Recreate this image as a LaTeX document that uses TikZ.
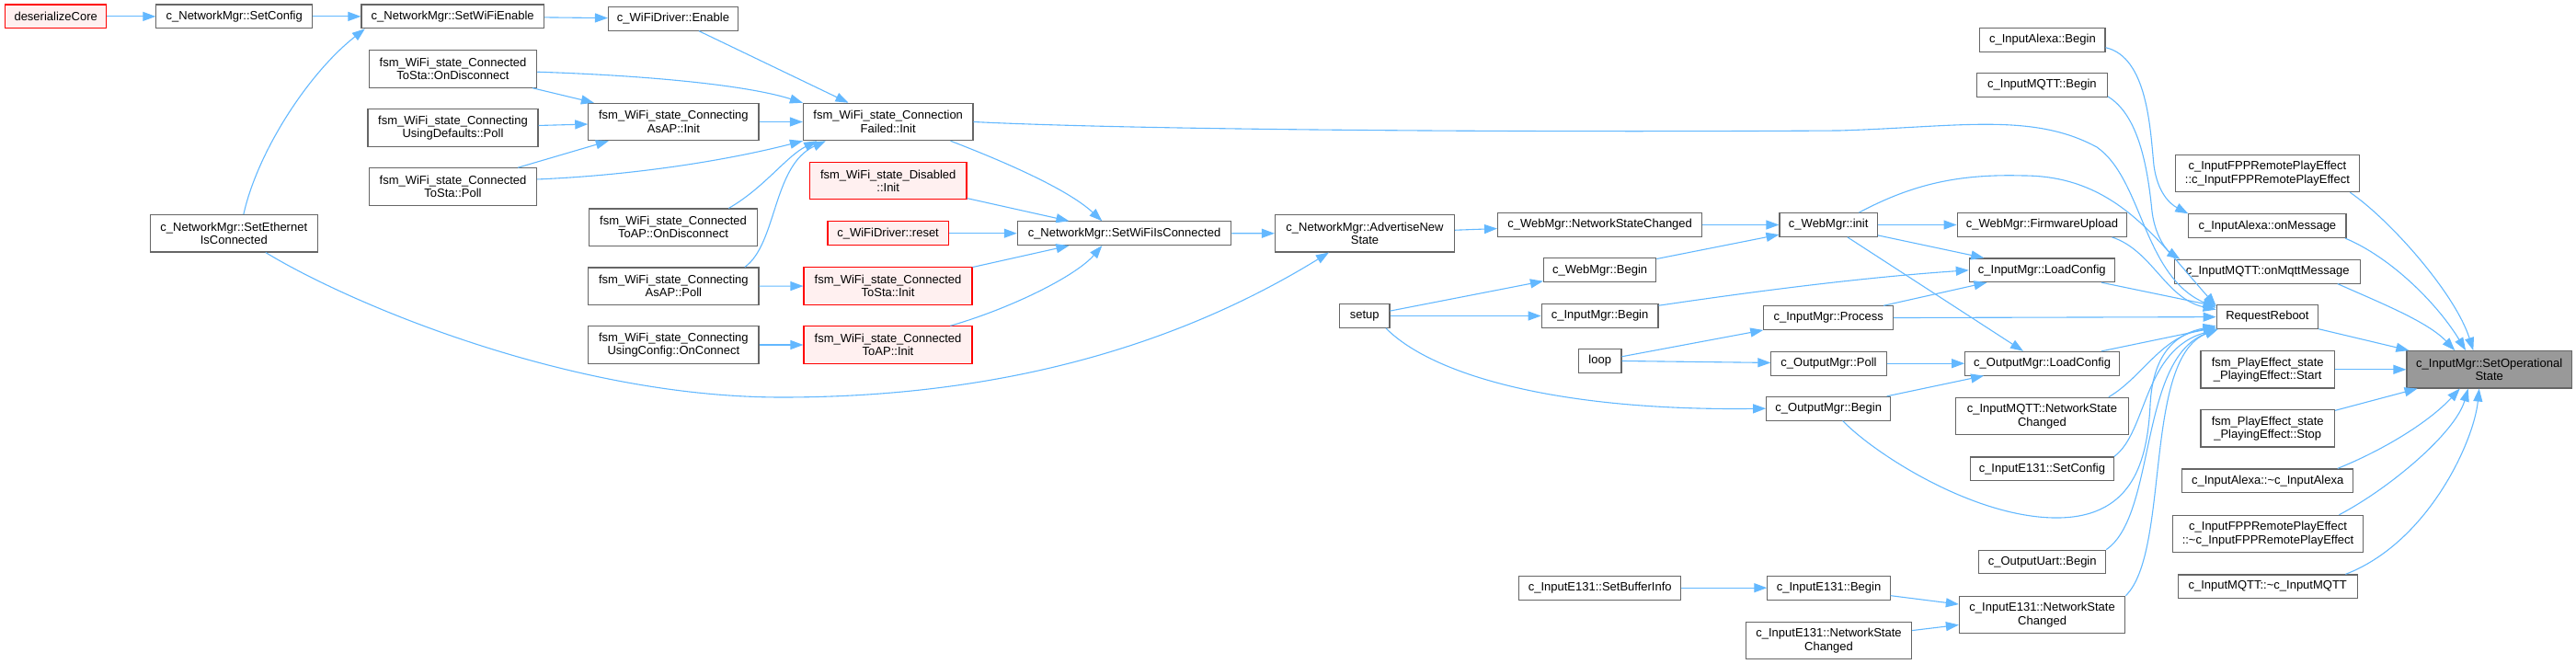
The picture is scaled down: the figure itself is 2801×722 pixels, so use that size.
\documentclass[tikz,border=0pt]{standalone}
\usepackage{fontspec}
\setmainfont{Liberation Sans}
\usepackage{xcolor}
\usepackage{tikz}
\usetikzlibrary{arrows.meta}

\definecolor{edgeblue}{HTML}{63B8FF}
\definecolor{nodegray}{HTML}{666666}
\definecolor{redfill}{HTML}{FFF0F0}
\definecolor{rootfill}{HTML}{999999}

\begin{document}
\begin{tikzpicture}[
      font=\fontsize{13}{14.3}\selectfont, x=1pt, y=-1pt,
      box/.style={draw=nodegray, line width=1.1pt, fill=white, align=center, inner xsep=3pt, inner ysep=1pt, minimum height=25.7, minimum width=#1},
      box2/.style={box=#1, minimum height=40.4},
      rbox/.style={box=#1, draw=red, fill=redfill},
      rbox2/.style={box2=#1, draw=red, fill=redfill},
      rootbox/.style={box2=#1, fill=rootfill},
      ar/.style={draw=edgeblue, line width=1.1pt, -{Triangle[length=14pt,width=10pt]}}]
    \useasboundingbox (0,0) rectangle (2801,722);
    \node[rbox=110.2]   (dcore)     at (60.7,17.9)    {deserializeCore};
    \node[box=169.7]    (setcfg)    at (254.7,17.9)   {c\_NetworkMgr::SetConfig};
    \node[box=198.5]    (wifien)    at (492.2,17.9)   {c\_NetworkMgr::SetWiFiEnable};
    \node[box=141]      (drven)     at (732,20.3)     {c\_WiFiDriver::Enable};
    \node[box2=182.4]   (stadisc)   at (492.5,75)     {fsm\_WiFi\_state\_Connected\\ToSta::OnDisconnect};
    \node[box2=185]     (defpoll)   at (492.5,139)    {fsm\_WiFi\_state\_Connecting\\UsingDefaults::Poll};
    \node[box2=182.4]   (stapoll)   at (492.5,203)    {fsm\_WiFi\_state\_Connected\\ToSta::Poll};
    \node[box2=181.6]   (ethcon)    at (254.3,253.8)  {c\_NetworkMgr::SetEthernet\\IsConnected};
    \node[box2=185.2]   (apinit)    at (732.4,132.5)  {fsm\_WiFi\_state\_Connecting\\AsAP::Init};
    \node[box2=184.5]   (failinit)  at (965.7,132.5)  {fsm\_WiFi\_state\_Connection\\Failed::Init};
    \node[rbox2=170.5]  (disinit)   at (965.7,196.5)  {fsm\_WiFi\_state\_Disabled\\::Init};
    \node[box2=183.1]   (apdisc)    at (732,247.2)    {fsm\_WiFi\_state\_Connected\\ToAP::OnDisconnect};
    \node[rbox=131.2]   (drvreset)  at (965.6,253.7)  {c\_WiFiDriver::reset};
    \node[box2=185.2]   (appoll)    at (732.4,311.2)  {fsm\_WiFi\_state\_Connecting\\AsAP::Poll};
    \node[rbox2=183]    (stainit)   at (965.5,311)    {fsm\_WiFi\_state\_Connected\\ToSta::Init};
    \node[box2=185.2]   (cfgconn)   at (732.4,375)    {fsm\_WiFi\_state\_Connecting\\UsingConfig::OnConnect};
    \node[rbox2=183]    (toapinit)  at (965.5,375)    {fsm\_WiFi\_state\_Connected\\ToAP::Init};
    \node[box=232.4]    (wifiis)    at (1222.5,253.7) {c\_NetworkMgr::SetWiFiIsConnected};
    \node[box2=195.1]   (advert)    at (1484,253.8)   {c\_NetworkMgr::AdvertiseNew\\State};
    \node[box=222.1]    (webnsc)    at (1739.6,244.5) {c\_WebMgr::NetworkStateChanged};
    \node[box=122.3]    (webbegin)  at (1739.6,293.7) {c\_WebMgr::Begin};
    \node[box=54.5]     (setup)     at (1483.7,343.5) {setup};
    \node[box=126.8]    (inbegin)   at (1739.6,343.5) {c\_InputMgr::Begin};
    \node[box=46.6]     (loop)      at (1739.7,392.2) {loop};
    \node[box=176.2]    (e131buf)   at (1739.7,639.2) {c\_InputE131::SetBufferInfo};
    \node[box2=180.3]   (e131nsc2)  at (1988.5,696.5) {c\_InputE131::NetworkState\\Changed};
    \node[box=106.4]    (webinit)   at (1988.2,244.5) {c\_WebMgr::init};
    \node[box=140.8]    (inproc)    at (1988.2,345.7) {c\_InputMgr::Process};
    \node[box=125.2]    (outpoll)   at (1988.5,395.2) {c\_OutputMgr::Poll};
    \node[box=135]      (outbegin)  at (1988.2,444.2) {c\_OutputMgr::Begin};
    \node[box=133.3]    (e131begin) at (1988.5,639.2) {c\_InputE131::Begin};
    \node[box=184.5]    (fwup)      at (2220.4,244.5) {c\_WebMgr::FirmwareUpload};
    \node[box=158]      (inload)    at (2220.3,293.8) {c\_InputMgr::LoadConfig};
    \node[box=167.8]    (outload)   at (2220.6,395.2) {c\_OutputMgr::LoadConfig};
    \node[box2=187.9]   (mqttnsc)   at (2220.4,452.5) {c\_InputMQTT::NetworkState\\Changed};
    \node[box=155.7]    (e131cfg)   at (2220.4,509.8) {c\_InputE131::SetConfig};
    \node[box=137.9]    (uartbegin) at (2220.7,611)   {c\_OutputUart::Begin};
    \node[box2=180.4]   (e131nsc)   at (2220.6,668.5) {c\_InputE131::NetworkState\\Changed};
    \node[box=136.2]    (alexabegin) at (2220.9,43.3) {c\_InputAlexa::Begin};
    \node[box=141.9]    (mqttbegin) at (2220.4,92.3)  {c\_InputMQTT::Begin};
    \node[box2=200]     (fppctor)   at (2465.4,188.5) {c\_InputFPPRemotePlayEffect\\::c\_InputFPPRemotePlayEffect};
    \node[box=171.2]    (alexamsg)  at (2465.4,245.7) {c\_InputAlexa::onMessage};
    \node[box=201.7]    (mqttmsg)   at (2465.7,295.2) {c\_InputMQTT::onMqttMessage};
    \node[box=110.4]    (reboot)    at (2465.4,344.5) {RequestReboot};
    \node[box2=145.4]   (pestart)   at (2465.7,401.8) {fsm\_PlayEffect\_state\\\_PlayingEffect::Start};
    \node[box2=145.4]   (pestop)    at (2465.7,465.8) {fsm\_PlayEffect\_state\\\_PlayingEffect::Stop};
    \node[box=185.6]    (alexadtor) at (2465.7,522.8) {c\_InputAlexa::\textasciitilde c\_InputAlexa};
    \node[box2=206.8]   (fppdtor)   at (2466,580.5)   {c\_InputFPPRemotePlayEffect\\::\textasciitilde c\_InputFPPRemotePlayEffect};
    \node[box=194.8]    (mqttdtor)  at (2465.7,637.8) {c\_InputMQTT::\textasciitilde c\_InputMQTT};
    \node[rootbox=179.4] (root)     at (2706.7,401.8) {c\_InputMgr::SetOperational\\State};
    \draw[ar] (dcore) -- (setcfg);
    \draw[ar] (setcfg) -- (wifien);
    \draw[ar] (ethcon.63) .. controls (280,165) and (335,80) .. (wifien.-172);
    \draw[ar] (wifien) -- (drven);
    \draw[ar] (drven) -- (failinit);
    \draw[ar] (stadisc.-2) .. controls (700,82) and (810,92) .. (failinit.north west);
    \draw[ar] (stadisc) -- (apinit);
    \draw[ar] (defpoll) -- (apinit);
    \draw[ar] (stapoll) -- (apinit);
    \draw[ar] (stapoll.5) .. controls (700,190) and (800,172) .. (failinit.south west);
    \draw[ar] (apinit) -- (failinit);
    \draw[ar] (apdisc.19) .. controls (830,205) and (855,170) .. (failinit.-165);
    \draw[ar] (appoll.15) .. controls (845,265) and (840,180) .. (failinit.-163);
    \draw[ar] (appoll) -- (stainit);
    \draw[ar] (cfgconn) -- (toapinit);
    \draw[ar] (ethcon.-31) .. controls (380,330) and (620,432) .. (850,432) .. controls (1100,432) and (1290,370) .. (advert.-152);
    \draw[ar] (failinit.-17) .. controls (1090,175) and (1160,205) .. (wifiis.151);
    \draw[ar] (disinit) -- (wifiis);
    \draw[ar] (drvreset) -- (wifiis);
    \draw[ar] (stainit) -- (wifiis);
    \draw[ar] (toapinit.17) .. controls (1100,335) and (1170,300) .. (wifiis.-151);
    \draw[ar] (wifiis) -- (advert);
    \draw[ar] (advert) -- (webnsc);
    \draw[ar] (webnsc) -- (webinit);
    \draw[ar] (webbegin) -- (webinit);
    \draw[ar] (setup) -- (webbegin);
    \draw[ar] (setup) -- (inbegin);
    \draw[ar] (setup.-30) .. controls (1560,410) and (1700,447) .. (outbegin.west);
    \draw[ar] (failinit.east) .. controls (1250,142) and (1700,144) .. (2000,142) .. controls (2130,138) and (2210,122) .. (2280,160) .. controls (2330,195) and (2330,300) .. (reboot.170);
    \draw[ar] (webinit.22) .. controls (2080,200) and (2130,189) .. (2200,191) .. controls (2300,191) and (2345,260) .. (reboot.168);
    \draw[ar] (webinit) -- (fwup);
    \draw[ar] (webinit) -- (inload);
    \draw[ar] (webinit) -- (outload);
    \draw[ar] (fwup.-10) .. controls (2340,272) and (2355,325) .. (reboot.172);
    \draw[ar] (inbegin.10) .. controls (1900,318) and (2020,302) .. (inload.west);
    \draw[ar] (inproc) -- (inload);
    \draw[ar] (inproc) -- (reboot);
    \draw[ar] (loop) -- (inproc);
    \draw[ar] (loop) -- (outpoll);
    \draw[ar] (outpoll) -- (outload);
    \draw[ar] (outbegin) -- (outload);
    \draw[ar] (outbegin.-41) .. controls (2040,495) and (2150,565) .. (2240,563) .. controls (2320,561) and (2335,500) .. (2338,440) .. controls (2341,380) and (2370,362) .. (reboot.-170);
    \draw[ar] (inload) -- (reboot);
    \draw[ar] (outload) -- (reboot);
    \draw[ar] (mqttnsc.16) .. controls (2330,410) and (2350,365) .. (reboot.-168);
    \draw[ar] (e131cfg.north east) .. controls (2335,470) and (2330,380) .. (reboot.-166);
    \draw[ar] (uartbegin.north east) .. controls (2345,560) and (2325,390) .. (reboot.-166);
    \draw[ar] (e131nsc.north east) .. controls (2360,600) and (2330,390) .. (reboot.-166);
    \draw[ar] (e131buf) -- (e131begin);
    \draw[ar] (e131begin) -- (e131nsc);
    \draw[ar] (e131nsc2) -- (e131nsc);
    \draw[ar] (alexabegin.-7) .. controls (2335,62) and (2338,140) .. (2342,180) .. controls (2346,210) and (2360,222) .. (alexamsg.north west);
    \draw[ar] (mqttbegin.-10) .. controls (2325,125) and (2335,180) .. (2340,230) .. controls (2344,262) and (2360,275) .. (mqttmsg.172);
    \draw[ar] (reboot) -- (root);
    \draw[ar] (fppctor.-13) .. controls (2600,240) and (2670,320) .. (root.130);
    \draw[ar] (alexamsg.-9) .. controls (2600,280) and (2650,330) .. (root.141);
    \draw[ar] (mqttmsg.-10) .. controls (2590,330) and (2640,350) .. (root.151);
    \draw[ar] (pestart) -- (root);
    \draw[ar] (pestop) -- (root);
    \draw[ar] (alexadtor.10) .. controls (2590,490) and (2640,460) .. (root.-147);
    \draw[ar] (fppdtor.15) .. controls (2600,530) and (2670,470) .. (root.-138);
    \draw[ar] (mqttdtor.9) .. controls (2640,590) and (2690,480) .. (root.-118);
  \end{tikzpicture}
\end{document}
